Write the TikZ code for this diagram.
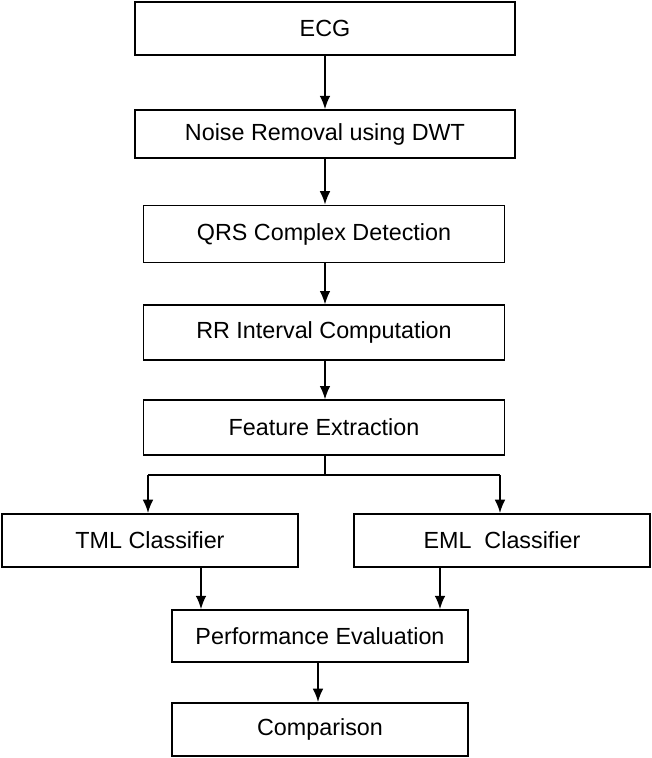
\documentclass[tikz,border=0pt]{standalone}
\usepackage{fontspec}
\setmainfont{Liberation Sans}
\usetikzlibrary{arrows.meta}
\begin{document}
\begin{tikzpicture}[x=0.75pt,y=0.75pt,yscale=-1,xscale=1,
	box/.style={draw,line width=1.2pt,minimum height=40pt,inner sep=0pt,font=\fontsize{17.5}{19}\selectfont},
	arr/.style={line width=1.2pt,-{Latex[length=10pt,width=8pt]}}]
	\useasboundingbox (0,0) rectangle (652,758);
	
	% Boxes
	\node [box,minimum width=285pt] (ecg) at (325,28.5) {ECG};
	\node [box,minimum width=285pt,minimum height=36pt] (noise) at (325,134) {Noise Removal using DWT};
	\node [box,minimum width=271pt,minimum height=43pt] (qrs) at (324,234) {QRS Complex Detection};
	\node [box,minimum width=271pt,minimum height=41pt] (rr) at (324,332.5) {RR Interval Computation};
	\node [box,minimum width=271pt,minimum height=41pt] (feat) at (324,427.5) {Feature Extraction};
	\node [box,minimum width=222pt] (tml) at (150,540.5) {TML Classifier};
	\node [box,minimum width=222pt] (eml) at (502,540.5) {EML~ Classifier};
	\node [box,minimum width=222pt,minimum height=39pt] (perf) at (320,636) {Performance Evaluation};
	\node [box,minimum width=222pt] (comp) at (320,729.5) {Comparison};
	
	% Split point
	\coordinate (split) at (325,475);
	\coordinate (left) at (148,475);
	\coordinate (right) at (500,475);
	
	% Connectors
	\draw [arr] (ecg.south -| 325,0) -- (noise.north -| 325,0);
	\draw [arr] (noise.south -| 325,0) -- (qrs.north -| 325,0);
	\draw [arr] (qrs.south -| 325,0) -- (rr.north -| 325,0);
	\draw [arr] (rr.south -| 325,0) -- (feat.north -| 325,0);
	\draw [line width=1.2pt] (feat.south -| split) -- (split);
	\draw [line width=1.2pt] (left) -- (right);
	\draw [arr] (left) -- (tml.north -| left);
	\draw [arr] (right) -- (eml.north -| right);
	\draw [arr] (tml.south -| 201,0) -- (perf.north -| 201,0);
	\draw [arr] (eml.south -| 440,0) -- (perf.north -| 440,0);
	\draw [arr] (perf.south -| 318,0) -- (comp.north -| 318,0);
\end{tikzpicture}
\end{document}
